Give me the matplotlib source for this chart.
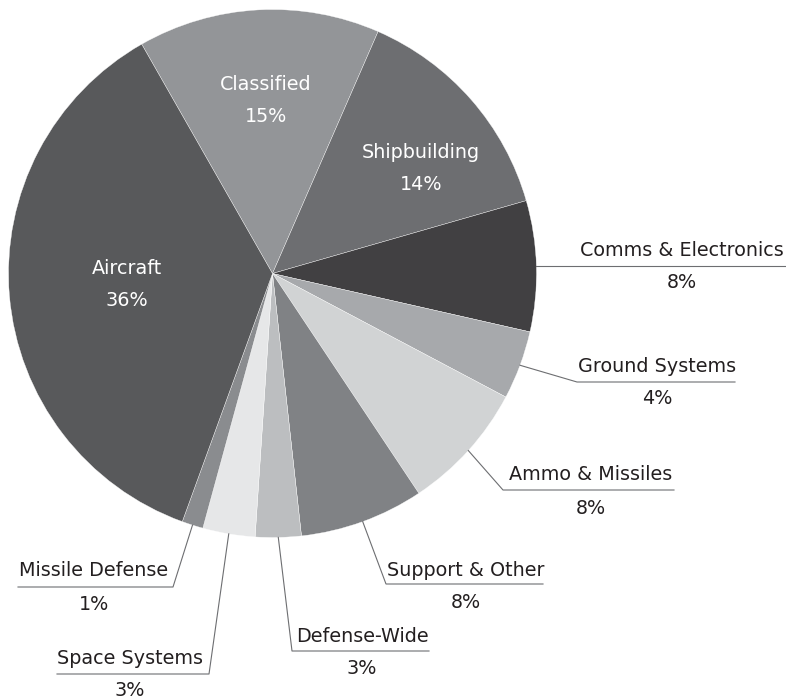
import matplotlib.pyplot as plt
import numpy as np

# budget shares (percent), clockwise from the top
categories = ['Classified', 'Shipbuilding', 'Comms & Electronics', 'Ground Systems',
              'Ammo & Missiles', 'Support & Other', 'Defense-Wide', 'Space Systems',
              'Missile Defense', 'Aircraft']
shares = [14.8, 14.0, 8.0, 4.2, 7.9, 7.6, 2.8, 3.2, 1.3, 36.2]

colors = ['#939598', '#6d6e71', '#414042', '#a7a9ac', '#d1d3d4',
          '#808285', '#bcbec0', '#e6e7e8', '#8a8c8f', '#58595b']

W, H = 786, 700
cx, cy, rad = 272.5, H - 273.5, 264
fs = 13.8
txt_col = '#231f20'
line_col = '#6d6e71'

# labels drawn inside the wedge: x, name y, pct y (pixels from top)
inside = {
    'Classified': (266, 84, 116),
    'Shipbuilding': (421, 153, 184),
    'Aircraft': (127, 268, 300),
}
# outside labels: elbow (x, y) or None, end x of underline, text x, name y, pct y
outside = {
    'Comms & Electronics': (None, 786, 682, 251, 283),
    'Ground Systems': ((577, 382), 735, 657, 366, 398),
    'Ammo & Missiles': ((503, 490), 674, 591, 475, 508),
    'Support & Other': ((386, 584), 543, 466, 570, 602),
    'Defense-Wide': ((292, 651), 429, 362, 636, 668),
    'Space Systems': ((209, 674), 57, 130, 658, 690),
    'Missile Defense': ((173, 587), 18, 94, 571, 605),
}

fig = plt.figure(figsize=(7.86, 7.0), dpi=100)
ax = fig.add_axes([0, 0, 1, 1])
wedges, _ = ax.pie(shares, colors=colors, startangle=119.7, counterclock=False,
                   center=(cx, cy), radius=rad,
                   wedgeprops=dict(edgecolor='white', linewidth=0.25))
ax.set_xlim(0, W)
ax.set_ylim(0, H)
ax.set_aspect('equal')
ax.axis('off')

for name, val, w in zip(categories, shares, wedges):
    pct = '%d%%' % int(val + 0.5)
    if name in inside:
        x, y1, y2 = inside[name]
        ax.text(x, H - y1, name, color='white', fontsize=fs, ha='center', va='center')
        ax.text(x, H - y2, pct, color='white', fontsize=fs, ha='center', va='center')
        continue
    elbow, xend, tx, y1, y2 = outside[name]
    # leader line starts on the rim at the middle of the wedge
    mid = np.deg2rad((w.theta1 + w.theta2) / 2)
    x0 = cx + rad * np.cos(mid)
    y0 = cy + rad * np.sin(mid)
    if elbow is None:
        xs, ys = [x0, xend], [y0, y0]
    else:
        ex, ey = elbow
        xs, ys = [x0, ex, xend], [y0, H - ey, H - ey]
    ax.plot(xs, ys, color=line_col, lw=0.8)
    ax.text(tx, H - y1, name, color=txt_col, fontsize=fs, ha='center', va='center')
    ax.text(tx, H - y2, pct, color=txt_col, fontsize=fs, ha='center', va='center')

plt.savefig('out.png', dpi=100)
